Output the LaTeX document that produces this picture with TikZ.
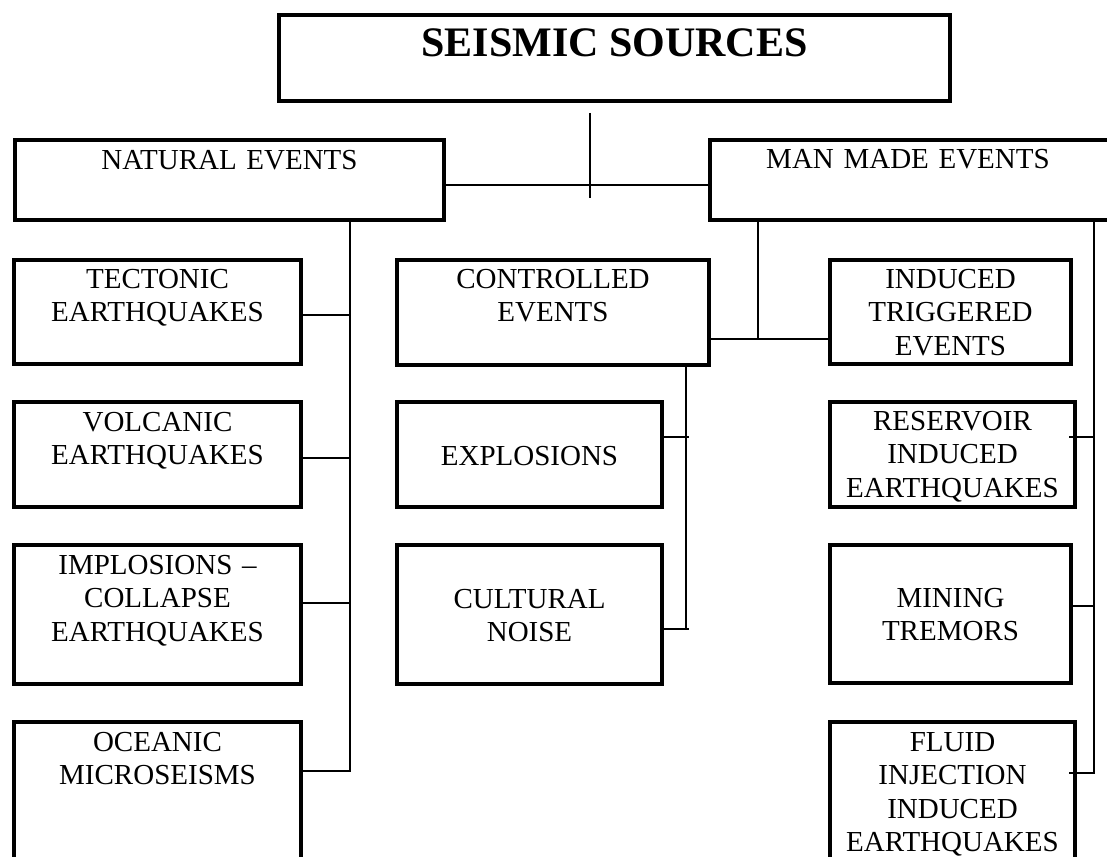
\documentclass[tikz,border=0pt]{standalone}
\usepackage{fontspec}
\setmainfont{Liberation Serif}
\usetikzlibrary{calc}
\newcommand\drawbox[5]{\node[box, minimum width={#4-#2}, minimum height={#5-#3}] (#1) at ({(#2+#4)/2},{(#3+#5)/2}) {};}
\begin{document}
\begin{tikzpicture}[x=1pt,y=-1pt,
  box/.style={draw, line width=4.2pt, inner sep=0pt, outer sep=0pt, rectangle},
  conn/.style={draw, line width=1.6pt},
  txt/.style={anchor=base, text width=320pt, align=center, inner sep=0pt, font=\fontsize{29pt}{33.6pt}\selectfont},
  ttl/.style={anchor=base, inner sep=0pt, font=\bfseries\fontsize{42pt}{48pt}\selectfont}]
\useasboundingbox (0,0) rectangle (1107,856);
\clip (0,0) rectangle (1107,856);

% boxes (geometry only, drawn later)
\path[use as bounding box] (0,0);
\drawbox{top}{279}{15}{950}{101}
\drawbox{nat}{15}{140}{444}{220}
\drawbox{man}{710}{140}{1118}{220}
\drawbox{tect}{14}{260}{301}{364}
\drawbox{volc}{14}{402}{301}{507}
\drawbox{impl}{14}{545}{301}{684}
\drawbox{ocean}{14}{722}{301}{880}
\drawbox{ctrl}{397}{260}{709}{365}
\drawbox{expl}{397}{402}{662}{507}
\drawbox{cult}{397}{545}{662}{684}
\drawbox{indu}{830}{260}{1071}{364}
\drawbox{resv}{830}{402}{1075}{507}
\drawbox{mine}{830}{545}{1071}{683}
\drawbox{fluid}{830}{722}{1075}{880}

% texts
\node[ttl] (titleT) at (614.5,57) {SEISMIC SOURCES};
\node[txt] (natT) at (229.5,169) {NATURAL EVENTS};
\node[txt] (manT) at (908,168) {MAN MADE EVENTS};
\node[txt] (tectT) at (157.5,288) {TECTONIC\\EARTHQUAKES};
\node[txt] (volcT) at (157.5,431) {VOLCANIC\\EARTHQUAKES};
\node[txt] (implT) at (157.5,574) {IMPLOSIONS –\\COLLAPSE\\EARTHQUAKES};
\node[txt] (oceanT) at (157.5,751) {OCEANIC\\MICROSEISMS};
\node[txt] (ctrlT) at (553,288) {CONTROLLED\\EVENTS};
\node[txt] (explT) at (529.5,465) {EXPLOSIONS};
\node[txt] (cultT) at (529.5,608) {CULTURAL\\NOISE};
\node[txt] (induT) at (950.5,288) {INDUCED\\TRIGGERED\\EVENTS};
\node[txt] (resvT) at (952.5,430) {RESERVOIR\\INDUCED\\EARTHQUAKES};
\node[txt] (mineT) at (950.5,607) {MINING\\TREMORS};
\node[txt] (fluidT) at (952.5,751) {FLUID\\INJECTION\\INDUCED\\EARTHQUAKES};

% connectors
\coordinate (jtop1) at (590,113);
\coordinate (jtop2) at (590,198);
\coordinate (jmid) at (590,185);
\draw[conn] (jtop1) -- (jtop2);
\draw[conn] (nat.east |- jmid) -- (man.west |- jmid);

\coordinate (nt) at (350,771);
\coordinate (n1) at (350,315);
\coordinate (n2) at (350,458);
\coordinate (n3) at (350,603);
\draw[conn] (nat.south -| nt) -- (nt) -- (ocean.east |- nt);
\draw[conn] (tect.east |- n1) -- (n1);
\draw[conn] (volc.east |- n2) -- (n2);
\draw[conn] (impl.east |- n3) -- (n3);

\coordinate (ml) at (758,339);
\draw[conn] (man.south -| ml) -- (ml);
\draw[conn] (ctrl.east |- ml) -- (indu.west |- ml);

\coordinate (ct) at (686,629);
\coordinate (c1) at (686,437);
\draw[conn] (ctrl.south -| ct) -- (ct);
\draw[conn] (expl.east |- c1) -- ($(c1)+(3,0)$);
\draw[conn] (cult.east |- ct) -- ($(ct)+(3,0)$);

\coordinate (rt) at (1094,773);
\coordinate (r1) at (1094,437);
\coordinate (r2) at (1094,606);
\draw[conn] (man.south -| rt) -- (rt) -- ($(fluid.east |- rt)+(-6,0)$);
\draw[conn] ($(resv.east |- r1)+(-6,0)$) -- (r1);
\draw[conn] (mine.east |- r2) -- (r2);
\end{tikzpicture}
\end{document}
